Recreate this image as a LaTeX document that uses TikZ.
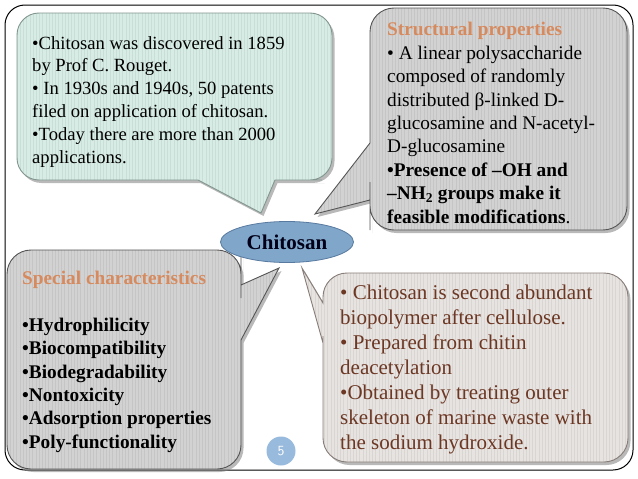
\documentclass[tikz,border=0pt]{standalone}
\usepackage{fontspec}
\setmainfont{Liberation Serif}
\usepackage{tikz}
\usetikzlibrary{shapes.geometric, shadows}
\definecolor{tealfill}{RGB}{214,236,229}
\definecolor{tealline}{RGB}{130,150,143}
\definecolor{greyfill}{RGB}{210,210,210}
\definecolor{greyline}{RGB}{85,85,85}
\definecolor{pinkfill}{RGB}{231,227,225}
\definecolor{pinkline}{RGB}{135,125,120}
\definecolor{brown}{RGB}{108,55,35}
\definecolor{heading}{RGB}{214,138,94}
\definecolor{chitfill}{RGB}{128,166,201}
\definecolor{chitline}{RGB}{88,122,160}
\definecolor{pgfill}{RGB}{152,186,220}

\begin{document}
\begin{tikzpicture}[x=1pt, y=-1pt,
    stripes/.style={path picture={
        \foreach \i in {0,3.2,...,330}
          \draw[black, opacity=.06, line width=.6pt]
            ([xshift=\i pt]path picture bounding box.south west) --
            ([xshift=\i pt]path picture bounding box.north west);}},
    bubble/.style={line width=.9pt, stripes,
        drop shadow={shadow xshift=2.5pt, shadow yshift=-3pt, opacity=.55}},
    txt/.style={anchor=base west, align=left, inner sep=0pt}]
    \useasboundingbox[fill=white] (0,0) rectangle (638,479);
    \draw[rounded corners=20pt, line width=1pt] (5,5) rectangle (633,470);

    \draw[bubble, draw=tealline, fill=tealfill] (17,100) [rounded corners=22pt] -- (17,13) -- (332,13) -- (332,180) -- (300,180)
        [sharp corners] -- (275,180) -- (261,213) -- (198,180) -- (150,180)
        [rounded corners=22pt] -- (17,180) -- cycle;
    \draw[bubble, draw=greyline, fill=greyfill] (500,8) [rounded corners=24pt] -- (627,8) -- (627,230) -- (370,230) -- (370,206)
        [sharp corners] -- (370,200) -- (315,214) -- (370,143) -- (370,130)
        [rounded corners=24pt] -- (370,8) -- cycle;
    \draw[bubble, draw=greyline, fill=greyfill] (120,469) [rounded corners=24pt] -- (7,469) -- (7,250) -- (241,250) -- (241,274)
        [sharp corners] -- (241,285) -- (279,268) -- (241,340) -- (241,360)
        [rounded corners=24pt] -- (241,469) -- cycle;
    \draw[bubble, draw=pinkline, fill=pinkfill] (450,273) [rounded corners=24pt] -- (628,273) -- (628,462) -- (323,462) -- (323,360)
        [sharp corners] -- (323,343) -- (302,268) -- (323,303) -- (323,297)
        [rounded corners=24pt] -- (323,273) -- cycle;

    \node (chit) [ellipse, draw=chitline, fill=chitfill, line width=.8pt, minimum width=133pt, minimum height=41pt,
        font=\fontsize{21}{25}\selectfont\bfseries, text=black!90!blue] at (287,242) {Chitosan};
    \node (pg) [circle, fill=pgfill, minimum size=29pt, inner sep=0pt, text=white, font=\sffamily\fontsize{14}{16}\selectfont] at (281,451) {5};

    % anchors sit on the baseline of the last line
    \node (hist) [txt, font=\fontsize{18.6}{22.8}\selectfont] at (32,163) {%
        •Chitosan was discovered in 1859\\
        by Prof C. Rouget.\\
        • In 1930s and 1940s, 50 patents\\
        filed on application of chitosan.\\
        •Today there are more than 2000\\
        applications.};
    \node (struct) [txt, font=\fontsize{19.3}{23.4}\selectfont] at (387,223) {%
        \textbf{\color{heading}Structural properties}\\
        • A linear polysaccharide\\
        composed of randomly\\
        distributed β-linked D-\\
        glucosamine and N-acetyl-\\
        D-glucosamine\\
        \textbf{•Presence of –OH and}\\
        \textbf{–NH\textsubscript{2} groups make it}\\
        \textbf{feasible modifications}.};
    \node (spec) [txt, font=\fontsize{19.3}{23.3}\selectfont\bfseries] at (22,448) {%
        {\color{heading}Special characteristics}\\[23.3pt]
        •Hydrophilicity\\
        •Biocompatibility\\
        •Biodegradability\\
        •Nontoxicity\\
        •Adsorption properties\\
        •Poly-functionality};
    \node (prep) [txt, text=brown, font=\fontsize{21}{25}\selectfont] at (340,449) {%
        • Chitosan is second abundant\\
        biopolymer after cellulose.\\
        • Prepared from chitin\\
        deacetylation\\
        •Obtained by treating outer\\
        skeleton of marine waste with\\
        the sodium hydroxide.};
\end{tikzpicture}
\end{document}
